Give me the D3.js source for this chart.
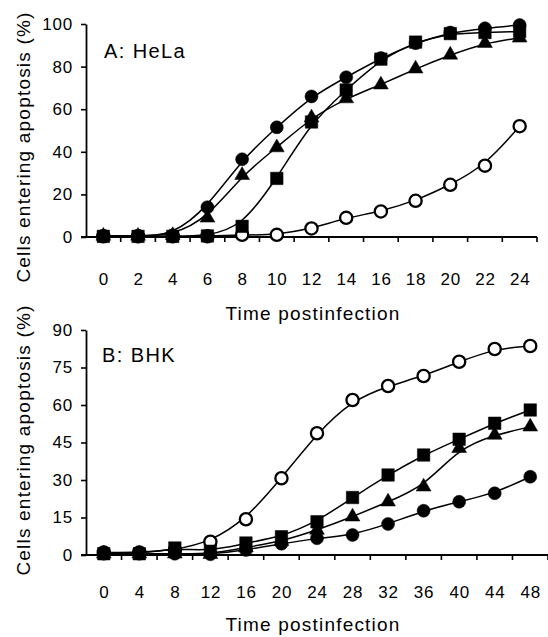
<!DOCTYPE html>
<html>
<head>
<meta charset="utf-8">
<script src="https://cdn.jsdelivr.net/npm/d3@7"></script>
<style>
  html, body { margin: 0; padding: 0; background: #fff; }
  svg { display: block; }
  text { font-family: "Liberation Sans", Arial, Helvetica, sans-serif; fill: #000; }
</style>
</head>
<body>
<svg id="chart" width="548" height="637"></svg>
<script>
// Hours post infection (category labels)
const helaHours = [0, 2, 4, 6, 8, 10, 12, 14, 16, 18, 20, 22, 24];
const bhkHours  = [0, 4, 8, 12, 16, 20, 24, 28, 32, 36, 40, 44, 48];

// Y-axis tick labels
const helaYTicks = [0, 20, 40, 60, 80, 100];
const bhkYTicks  = [0, 15, 30, 45, 60, 75, 90];

// Panel A: HeLa cells, % entering apoptosis
const helaCircle   = [0.5, 0.5, 0.8, 14, 36.5, 51.5, 66, 75, 84, 91, 96, 98, 99.5];
const helaTriangle = [0.5, 0.5, 0.8, 9, 29, 42, 56, 65, 71.5, 79, 85.5, 91, 93.5];
const helaSquare   = [0.3, 0.3, 0.3, 0.5, 5, 27.5, 54, 69, 83.5, 91.5, 95.5, 96, 96.5];
const helaOpen     = [0.3, 0.3, 0.3, 0.3, 1, 1, 4, 9, 12, 17, 24.5, 33.5, 52];

// Panel B: BHK cells, % entering apoptosis
const bhkOpen     = [1, 1, 2, 5.3, 14.3, 30.7, 48.7, 62, 67.6, 71.6, 77.3, 82.4, 83.6];
const bhkSquare   = [0.5, 0.5, 2.8, 1.5, 4.8, 7.3, 13.3, 23, 32, 40, 46.3, 52.7, 58];
const bhkTriangle = [0.5, 0.5, 0.5, 0.3, 3, 5.5, 10, 15.3, 21.3, 27.3, 42.7, 48, 51.3];
const bhkCircle   = [0.5, 0.5, 0.5, 0.3, 2, 4.5, 6.7, 8, 12.4, 17.7, 21.3, 24.7, 31.3];

const svg = d3.select("#chart");

function drawPanel(opts) {
  const g = svg.append("g");
  const x = d3.scaleBand().domain(opts.hours).range([opts.left, opts.right]).padding(0);
  const y = d3.scaleLinear().domain([0, opts.yMax]).range([opts.bottom, opts.top]);
  const cx = h => x(h) + x.bandwidth() / 2;

  // y axis
  const yAxis = d3.axisLeft(y).tickValues(opts.yTicks).tickSize(5).tickSizeOuter(0).tickPadding(8);
  const ya = g.append("g").attr("transform", `translate(${opts.left},0)`).call(yAxis);
  ya.select(".domain").attr("stroke", "#000").attr("stroke-width", 1.8);
  ya.selectAll(".tick line").attr("stroke", "#000").attr("stroke-width", 1.6);
  ya.selectAll(".tick text")
    .attr("font-size", 17).attr("letter-spacing", "0.8px")
    .attr("fill", "#000").attr("font-family", "Liberation Sans, Arial, sans-serif");

  // x axis: line, boundary ticks, centred category labels
  g.append("line")
    .attr("x1", opts.left - 5).attr("x2", opts.right)
    .attr("y1", y(0)).attr("y2", y(0))
    .attr("stroke", "#000").attr("stroke-width", 1.8);
  g.selectAll(".xtick").data(opts.hours).join("line")
    .attr("x1", h => x(h) + x.bandwidth()).attr("x2", h => x(h) + x.bandwidth())
    .attr("y1", y(0)).attr("y2", y(0) + 5)
    .attr("stroke", "#000").attr("stroke-width", 1.6);
  g.selectAll(".xlab").data(opts.hours).join("text")
    .attr("x", h => cx(h) + 0.5).attr("y", opts.xLabelY)
    .attr("text-anchor", "middle").attr("font-size", 17).attr("letter-spacing", "0.8px")
    .text(d => d);

  // axis titles
  g.append("text")
    .attr("x", opts.xTitleX).attr("y", opts.xTitleY)
    .attr("text-anchor", "middle").attr("font-size", 19).attr("letter-spacing", "1.2px")
    .text("Time postinfection");
  g.append("text")
    .attr("transform", `translate(30,${opts.yTitleY}) rotate(-90)`)
    .attr("text-anchor", "middle").attr("font-size", 19).attr("letter-spacing", "1.2px")
    .text("Cells entering apoptosis (%)");

  // panel label
  g.append("text")
    .attr("x", opts.labelX).attr("y", opts.labelY)
    .attr("font-size", 20).attr("letter-spacing", "1.4px")
    .text(opts.label);

  // smoothed curves
  const line = d3.line().x((d, i) => cx(opts.hours[i])).y(d => y(d)).curve(d3.curveBasis);
  opts.series.forEach(s => {
    g.append("path").datum(s.values)
      .attr("d", line).attr("fill", "none")
      .attr("stroke", "#000").attr("stroke-width", 1.5);
  });

  // markers
  const sym = {
    circle: d3.symbol().type(d3.symbolCircle).size(Math.PI * 6.5 * 6.5),
    open: d3.symbol().type(d3.symbolCircle).size(Math.PI * 6.1 * 6.1),
    square: d3.symbol().type(d3.symbolSquare).size(12.5 * 12.5),
    triangle: d3.symbol().type(d3.symbolTriangle).size(95)
  };
  opts.series.forEach(s => {
    g.selectAll(null).data(s.values).join("path")
      .attr("transform", (d, i) => `translate(${cx(opts.hours[i])},${y(d)})`)
      .attr("d", sym[s.shape])
      .attr("fill", s.shape === "open" ? "#fff" : "#000")
      .attr("stroke", "#000")
      .attr("stroke-width", s.shape === "open" ? 2.3 : 0.5);
  });
}

drawPanel({
  hours: helaHours, yTicks: helaYTicks, yMax: 100,
  left: 86, right: 537, top: 24, bottom: 237,
  xLabelY: 285, xTitleX: 313, xTitleY: 320, yTitleY: 147,
  label: "A: HeLa", labelX: 104, labelY: 58,
  series: [
    { shape: "open", values: helaOpen },
    { shape: "square", values: helaSquare },
    { shape: "triangle", values: helaTriangle },
    { shape: "circle", values: helaCircle }
  ]
});

drawPanel({
  hours: bhkHours, yTicks: bhkYTicks, yMax: 90,
  left: 86, right: 548, top: 330, bottom: 555,
  xLabelY: 598, xTitleX: 313, xTitleY: 631, yTitleY: 440,
  label: "B: BHK", labelX: 102, labelY: 362,
  series: [
    { shape: "open", values: bhkOpen },
    { shape: "square", values: bhkSquare },
    { shape: "triangle", values: bhkTriangle },
    { shape: "circle", values: bhkCircle }
  ]
});
</script>
</body>
</html>
